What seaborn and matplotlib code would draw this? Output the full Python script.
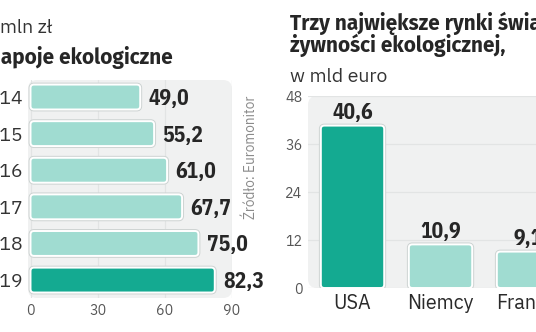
import matplotlib
matplotlib.use("Agg")
import matplotlib.pyplot as plt
import seaborn as sns
import pandas as pd
from matplotlib.patches import FancyBboxPatch

# Sales of organic drinks, mln zł
years = ["2014", "2015", "2016", "2017", "2018", "2019"]
sales = [49.0, 55.2, 61.0, 67.7, 75.0, 82.3]
sales_ticks = [0, 30, 60, 90]

# Largest organic food markets, bln euro
countries = ["USA", "Niemcy", "Francja"]
market = [40.6, 10.9, 9.1]
market_ticks = [0, 12, 24, 36, 48]

LIGHT = "#a0dcd1"
DARK = "#14aa91"
PANEL = "#f0f1f1"
GRID = "#e2e4e4"
INK = "#262626"
GREY = "#555555"

sns.set_style("white")
plt.rcParams["font.family"] = ["IBM Plex Sans", "DejaVu Sans"]
COND = ["IBM Plex Sans Condensed", "DejaVu Sans"]
HEAD = ["Fira Sans", "DejaVu Sans"]

W, H = 536, 332
fig = plt.figure(figsize=(W / 100, H / 100), dpi=100)
fig.patch.set_facecolor("white")


def axes_px(left, top, right, bottom):
    return fig.add_axes([left / W, 1 - bottom / H, (right - left) / W, (bottom - top) / H])


def fmt(v):
    return f"{v:.1f}".replace(".", ",")


def panel(ax, radius_px=9):
    bb = ax.get_position()
    wpx, hpx = bb.width * W, bb.height * H
    ax.add_patch(FancyBboxPatch((0, 0), 1, 1, transform=ax.transAxes,
                                boxstyle=f"round,pad=0,rounding_size={radius_px / wpx}",
                                mutation_aspect=wpx / hpx, fc=PANEL, ec="none",
                                zorder=-1, clip_on=False))


def round_bars(ax, radius_px=3.5):
    (x0, y0), (x1, y1) = ax.transData.transform([(0, 0), (1, 1)])
    sx, sy = abs(x1 - x0), abs(y1 - y0)
    for p in list(ax.patches):
        if not isinstance(p, matplotlib.patches.Rectangle):
            continue
        x, y = p.get_xy()
        w, h = p.get_width(), p.get_height()
        fc = p.get_facecolor()
        p.remove()
        for ec, lw, z in [("#cdd3d2", 2.8, 2), ("white", 1.4, 3)]:
            ax.add_patch(FancyBboxPatch((x, y), w, h,
                                        boxstyle=f"round,pad=0,rounding_size={radius_px / sx}",
                                        mutation_aspect=sx / sy, fc=fc, ec=ec, lw=lw, zorder=z))


def clean(ax):
    for s in ax.spines.values():
        s.set_visible(False)
    ax.set_facecolor("none")
    ax.set_xlabel("")
    ax.set_ylabel("")
    ax.set_axisbelow(True)


# ---- left: horizontal bars ----
df_sales = pd.DataFrame({"year": years, "value": sales})
axl = axes_px(28, 80, 232, 298)
sns.barplot(data=df_sales, x="value", y="year", hue="year", orient="h",
            palette=[LIGHT] * (len(years) - 1) + [DARK], legend=False,
            width=0.68, ax=axl, saturation=1)
clean(axl)
axl.set_xlim(-1.12, 90)
axl.set_ylim(len(years) - 0.51, -0.465)
axl.set_xticks(sales_ticks)
axl.set_xticklabels([str(t) for t in sales_ticks])
axl.xaxis.grid(True, color=GRID, lw=0.9)
axl.yaxis.grid(False)
axl.tick_params(axis="x", length=0, pad=4, labelsize=10.3, labelcolor=GREY)
axl.tick_params(axis="y", length=0, pad=3.2, labelsize=14, labelcolor="#333333")
for lab in axl.get_xticklabels():
    lab.set_fontweight("light")
panel(axl)
round_bars(axl)
for i, v in enumerate(sales):
    axl.annotate(fmt(v), (v, i), xytext=(6, -1), textcoords="offset points",
                 ha="left", va="center", fontsize=15.5, fontweight="bold",
                 family=COND, color=INK, annotation_clip=False)

# ---- right: vertical bars ----
df_market = pd.DataFrame({"country": countries, "value": market})
axr = axes_px(308, 96, 572, 288)
sns.barplot(data=df_market, x="country", y="value", hue="country",
            palette=[DARK] + [LIGHT] * (len(countries) - 1), legend=False,
            width=0.72, ax=axr, saturation=1)
clean(axr)
axr.set_xlim(-0.506, len(countries) - 0.506)
axr.set_ylim(0, 48)
axr.set_yticks(market_ticks)
axr.set_yticklabels([str(t) for t in market_ticks])
axr.yaxis.grid(True, color=GRID, lw=0.9)
axr.xaxis.grid(False)
axr.tick_params(axis="y", length=0, pad=4, labelsize=10.3, labelcolor=GREY)
axr.tick_params(axis="x", length=0, pad=4.5, labelsize=14.2, labelcolor="#2a2a2a")
for lab in axr.get_yticklabels():
    lab.set_fontweight("light")
panel(axr)
round_bars(axr)
for i, v in enumerate(market):
    axr.annotate(fmt(v), (i, v), xytext=(0, 4.5), textcoords="offset points",
                 ha="center", va="baseline", fontsize=15.5, fontweight="bold",
                 family=COND, color=INK, annotation_clip=False)

# ---- titles and source ----
def ftext(x, y, s, **kw):
    fig.text(x / W, 1 - y / H, s, **kw)


ftext(0, 33, "mln zł", ha="left", va="baseline", fontsize=14,
      fontweight="light", color="#333333")
ftext(173, 64, "Napoje ekologiczne", ha="right", va="baseline", fontsize=15,
      fontweight="bold", family=HEAD, color=INK)
ftext(290, 30, "Trzy największe rynki świata", ha="left", va="baseline",
      fontsize=15, fontweight="bold", family=HEAD, color=INK)
ftext(290, 52, "żywności ekologicznej,", ha="left", va="baseline",
      fontsize=15, fontweight="bold", family=HEAD, color=INK)
ftext(290, 82, "w mld euro", ha="left", va="baseline", fontsize=14,
      fontweight="light", color="#333333")
ftext(251, 157, "Źródło: Euromonitor", ha="center", va="center", rotation=90,
      fontsize=9.8, fontweight="light", color="#8a8a8a")

fig.savefig("out.png", dpi=100, facecolor="white")
